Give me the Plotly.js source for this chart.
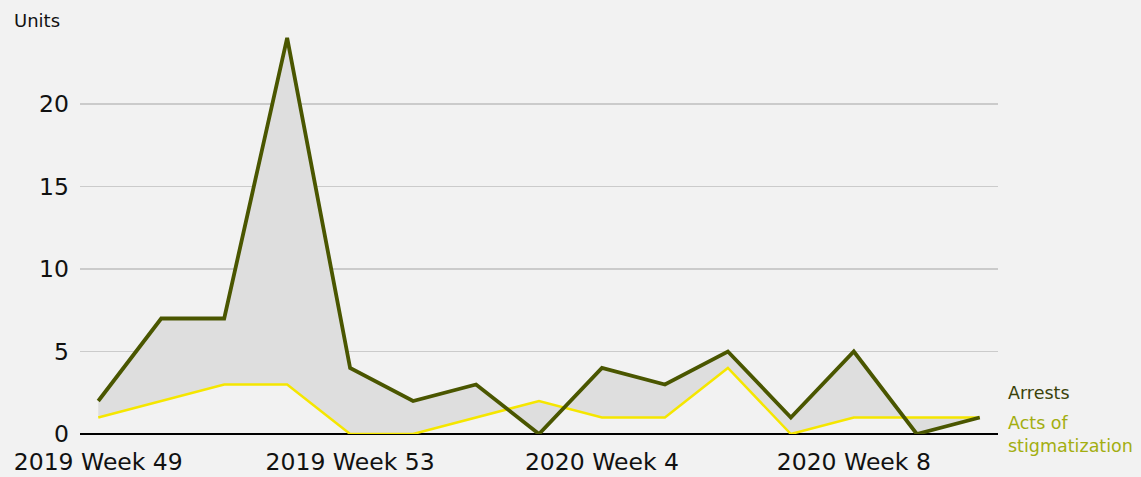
<!DOCTYPE html>
<html>
<head>
<meta charset="utf-8">
<script src="https://cdn.plot.ly/plotly-3.0.1.min.js"></script>
<style>
html,body{margin:0;padding:0;background:#f2f2f2;}
#chart{width:1141px;height:477px;}
</style>
</head>
<body>
<div id="chart"></div>
<script>
const weeks = ["2019 Week 49","2019 Week 50","2019 Week 51","2019 Week 52","2019 Week 53",
  "2020 Week 1","2020 Week 2","2020 Week 3","2020 Week 4","2020 Week 5","2020 Week 6",
  "2020 Week 7","2020 Week 8","2020 Week 9","2020 Week 10"];
const arrests = [2,7,7,24,4,2,3,0,4,3,5,1,5,0,1];
const acts = [1,2,3,3,0,0,1,2,1,1,4,0,1,1,1];
const tickWeeks = ["2019 Week 49","2019 Week 53","2020 Week 4","2020 Week 8"];
const yTicks = [0,5,10,15,20];

const idx = weeks.map((w,i)=>i);
const FONT = "DejaVu Sans, sans-serif";

const traces = [
  {x: idx, y: acts, type:'scatter', mode:'lines', name:'Acts of stigmatization',
   line:{color:'#f5e600', width:2.5}, hoverinfo:'skip'},
  {x: idx, y: arrests, type:'scatter', mode:'lines', name:'Arrests',
   line:{color:'#4a5600', width:3.8}, fill:'tonexty', fillcolor:'#dedede', hoverinfo:'skip'}
];

const layout = {
  width:1141, height:477,
  paper_bgcolor:'#f2f2f2', plot_bgcolor:'#f2f2f2',
  margin:{l:80, r:143, t:30, b:43},
  showlegend:false,
  font:{family:FONT, color:'#111'},
  xaxis:{
    range:[-0.29, 14.29],
    tickmode:'array',
    tickvals: tickWeeks.map(t=>weeks.indexOf(t)),
    ticktext: tickWeeks,
    tickfont:{size:23.5, family:FONT, color:'#111'},
    showgrid:false, zeroline:false, showline:false, ticks:'',
    ticklabelstandoff: 11
  },
  yaxis:{
    range:[0, 24.48],
    tickmode:'array', tickvals:yTicks,
    tickfont:{size:23.5, family:FONT, color:'#111'},
    showgrid:true, gridcolor:'#cbcbcb', gridwidth:1.5,
    zeroline:true, zerolinecolor:'#000', zerolinewidth:2,
    showline:false, ticks:'', ticklabelstandoff:10
  },
  annotations:[
    {text:'Units', xref:'paper', yref:'paper', x:-0.074, y:1.0, xanchor:'left', yanchor:'bottom',
     yshift:-3, showarrow:false, font:{size:18, family:FONT, color:'#111'}},
    {text:'Arrests', xref:'paper', yref:'y', x:1.0, y:arrests[arrests.length-1], xanchor:'left', yanchor:'middle',
     xshift:8, yshift:25, showarrow:false, font:{size:17.5, family:FONT, color:'#3b430a'}},
    {text:'Acts of<br>stigmatization', xref:'paper', yref:'y', x:1.0, y:acts[acts.length-1], xanchor:'left', yanchor:'middle',
     xshift:8, yshift:-17, align:'left', showarrow:false, font:{size:17.5, family:FONT, color:'#a3ae10'}}
  ]
};

Plotly.newPlot('chart', traces, layout, {displayModeBar:false, staticPlot:true});
</script>
</body>
</html>
